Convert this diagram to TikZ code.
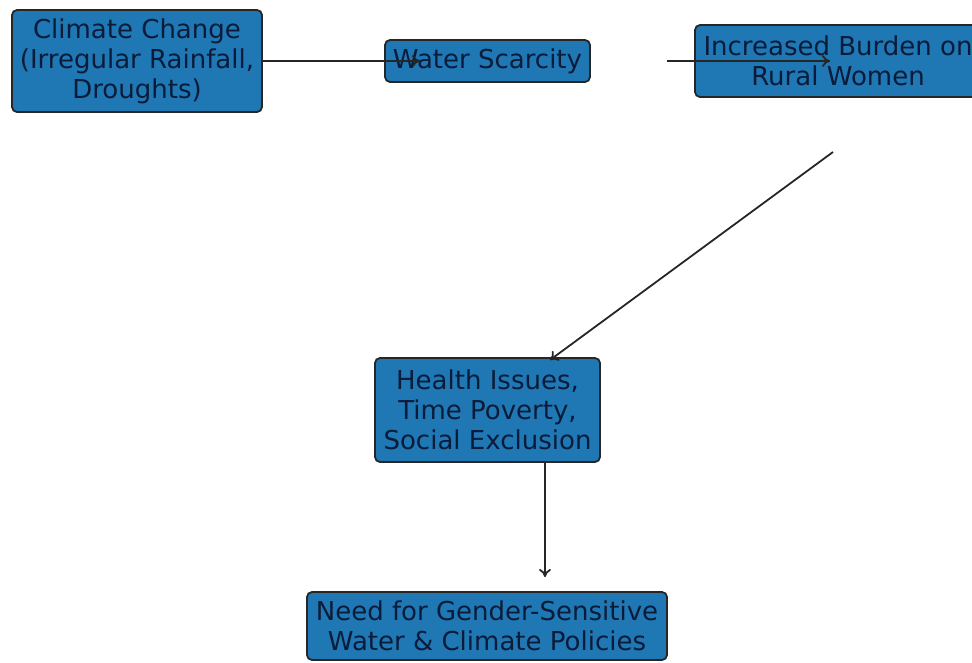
\documentclass[tikz,border=0pt]{standalone}
\usepackage{fontspec}
\setmainfont{DejaVu Sans}
\usetikzlibrary{arrows.meta}
\definecolor{boxblue}{HTML}{1F77B4}
\definecolor{boxtext}{RGB}{10,28,58}
\tikzset{
  flowbox/.style={draw=black!85, line width=1.8pt, fill=boxblue, rounded corners=5pt,
    text=boxtext, align=center, inner sep=0pt, font=\fontsize{26}{30}\selectfont},
  flowarrow/.style={-{To[length=8pt,width=12pt]}, line width=1.8pt, black!85}
}
\begin{document}
\begin{tikzpicture}[x=1pt, y=-1pt]
                  \useasboundingbox (0,0) rectangle (972,662);
                  \clip (0,0) rectangle (972,662);

                  \node[flowbox, minimum width=250pt, minimum height=102pt] (climate) at (137,61) {Climate Change\\(Irregular Rainfall,\\Droughts)};
                  \node[flowbox, minimum width=205pt, minimum height=42pt] (scarcity) at (487.5,61) {Water Scarcity};
                  \node[flowbox, minimum width=286pt, minimum height=72pt] (burden) at (838,61) {Increased Burden on\\Rural Women};
                  \node[flowbox, minimum width=225pt, minimum height=104pt] (health) at (487.5,410) {Health Issues,\\Time Poverty,\\Social Exclusion};
                  \node[flowbox, minimum width=360pt, minimum height=68pt] (policy) at (487,626) {Need for Gender-Sensitive\\Water \& Climate Policies};

                  % arrow ends
                  \coordinate (toscarcity) at (420,61);
                  \coordinate (fromscarcity) at (667,61);
                  \coordinate (toburden) at (830,61);
                  \coordinate (fromburden) at (833,152);
                  \coordinate (tohealth) at (550,360);
                  \coordinate (topolicy) at (545,577);

                  \draw[flowarrow] (climate.east) -- (toscarcity);
                  \draw[flowarrow] (fromscarcity) -- (toburden);
                  \draw[flowarrow] (fromburden) -- (tohealth);
                  \draw[flowarrow] (health.south -| topolicy) -- (topolicy);
              \end{tikzpicture}
\end{document}
